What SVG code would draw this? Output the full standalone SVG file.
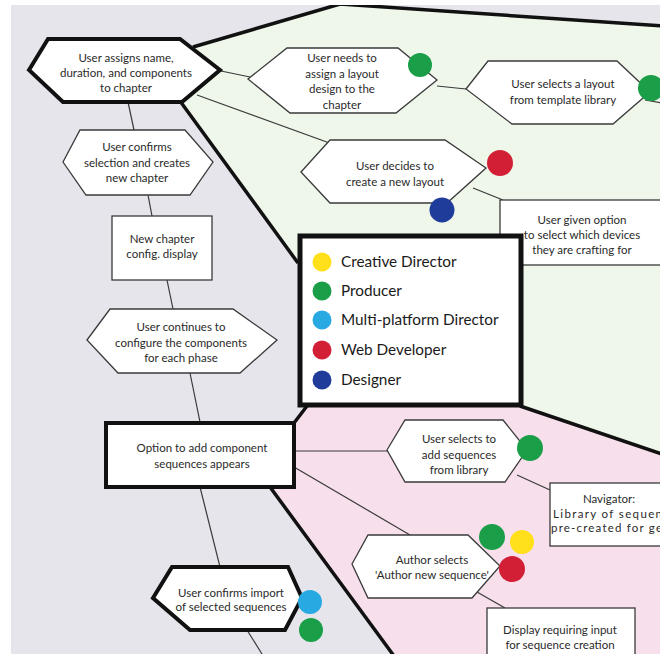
<svg xmlns="http://www.w3.org/2000/svg" width="671" height="654" viewBox="0 0 671 654">
<defs>
<style>
.t{font-family:Lato,"Open Sans",sans-serif;font-size:11.5px;fill:#2a2a2a;text-anchor:middle}
.lg{font-family:Lato,"Open Sans",sans-serif;font-size:15.3px;fill:#1a1a1a}
.n{fill:#fff;stroke:#3a3a3a;stroke-width:1.3}
.nb{fill:#fff;stroke:#111;stroke-width:4;stroke-linejoin:miter}
.c{stroke:#3a3a3a;stroke-width:1.2;fill:none}
.b{stroke:#111;stroke-width:3.5;fill:none}
</style>
<clipPath id="pic"><rect x="11" y="5" width="649" height="649"/></clipPath>
</defs>
<rect width="671" height="654" fill="#fff"/>
<g clip-path="url(#pic)">
<g id="regions">
<rect x="11" y="5" width="649" height="649" fill="#e6e5ec"/>
<polygon points="193,47 340,4 660,26 660,453 520,406 298,406 298,263 180,101" fill="#eef7ea"/>
<polygon points="305,406 520,406 660,453 660,654 393,654 270,487 294,487 294,422" fill="#f8dfec"/>
</g>
<g id="boundaries">
<polyline class="b" points="193,47 340,4 662,26"/>
<line class="b" x1="180" y1="101" x2="298" y2="263"/>
<line class="b" x1="520" y1="406" x2="662" y2="454"/>
<line class="b" x1="307" y1="406" x2="294" y2="423"/>
<line class="b" x1="270" y1="487" x2="394" y2="656"/>
</g>
<g id="connectors">
<line class="c" x1="221" y1="71" x2="250" y2="77"/>
<line class="c" x1="437" y1="86" x2="466" y2="89"/>
<line class="c" x1="197" y1="95" x2="335" y2="145"/>
<line class="c" x1="473" y1="188" x2="503" y2="200"/>
<line class="c" x1="128" y1="102" x2="134" y2="130"/>
<line class="c" x1="148" y1="195" x2="152" y2="216"/>
<line class="c" x1="167" y1="280" x2="173" y2="309"/>
<line class="c" x1="190" y1="373" x2="200" y2="422"/>
<line class="c" x1="200" y1="487" x2="220" y2="567"/>
<line class="c" x1="247" y1="630" x2="262" y2="654"/>
<line class="c" x1="294" y1="451" x2="388" y2="451"/>
<line class="c" x1="294" y1="467" x2="410" y2="535"/>
<line class="c" x1="517" y1="475" x2="550" y2="490"/>
<line class="c" x1="477" y1="592" x2="505" y2="608"/>
<line class="c" x1="645" y1="100" x2="662" y2="103"/>
</g>
<g id="n1">
<polygon class="nb" points="29,70 48,39 180,39 220,70 182,102 63,102"/>
<text class="t" x="126" y="62">User assigns name,</text>
<text class="t" x="126" y="77">duration, and components</text>
<text class="t" x="126" y="92">to chapter</text>
</g>
<g id="n2">
<polygon class="n" points="248,79 287,48 398,48 437,80 396,113 290,113"/>
<text class="t" x="342" y="62">User needs to</text>
<text class="t" x="342" y="78">assign a layout</text>
<text class="t" x="342" y="93">design to the</text>
<text class="t" x="342" y="109">chapter</text>
<circle cx="420" cy="65" r="12" fill="#1a9e48"/>
</g>
<g id="n3">
<polygon class="n" points="466,89 488,61 617,61 650,92 613,124 512,124"/>
<text class="t" x="563" y="88">User selects a layout</text>
<text class="t" x="563" y="104">from template library</text>
<circle cx="651" cy="88" r="13" fill="#1a9e48"/>
</g>
<g id="n4">
<polygon class="n" points="301,172 330,140 445,140 486,168 447,203 330,203"/>
<text class="t" x="395" y="170">User decides to</text>
<text class="t" x="395" y="186">create a new layout</text>
<circle cx="500" cy="163" r="13" fill="#d21f36"/>
<circle cx="442" cy="210" r="12.5" fill="#1f3c9a"/>
</g>
<g id="n5">
<rect class="n" x="500" y="200" width="165" height="65"/>
<text class="t" x="582" y="224">User given option</text>
<text class="t" x="582" y="239">to select which devices</text>
<text class="t" x="582" y="254">they are crafting for</text>
</g>
<g id="n7">
<polygon class="n" points="63,162 80,130 185,130 213,162 190,195 86,195"/>
<text class="t" x="137" y="151">User confirms</text>
<text class="t" x="137" y="167">selection and creates</text>
<text class="t" x="137" y="182">new chapter</text>
</g>
<g id="n8">
<rect class="n" x="112" y="216" width="100" height="64"/>
<text class="t" x="162" y="243">New chapter</text>
<text class="t" x="162" y="258">config. display</text>
</g>
<g id="n9">
<polygon class="n" points="87,340 110,309 233,309 277,340 240,373 118,373"/>
<text class="t" x="181" y="331">User continues to</text>
<text class="t" x="181" y="347">configure the components</text>
<text class="t" x="181" y="362">for each phase</text>
</g>
<g id="n10">
<rect class="nb" x="106" y="423" width="188" height="64"/>
<text class="t" x="202" y="452">Option to add component</text>
<text class="t" x="202" y="468">sequences appears</text>
</g>
<g id="n11">
<polygon class="nb" points="153,598 172,567 288,567 302,598 285,630 190,630"/>
<text class="t" x="231" y="597">User confirms import</text>
<text class="t" x="231" y="611">of selected sequences</text>
<circle cx="310" cy="602" r="12" fill="#29a9e1"/>
<circle cx="311" cy="630" r="12" fill="#1a9e48"/>
</g>
<g id="n12">
<polygon class="n" points="387,450 405,420 503,420 527,450 505,482 405,482"/>
<text class="t" x="459" y="443">User selects to</text>
<text class="t" x="459" y="459">add sequences</text>
<text class="t" x="459" y="474">from library</text>
<circle cx="530" cy="448" r="13" fill="#1a9e48"/>
</g>
<g id="n13">
<rect class="n" x="550" y="483" width="120" height="63"/>
<text class="t" x="609" y="503">Navigator:</text>
<text class="t" x="553" y="518" style="text-anchor:start" textLength="109" lengthAdjust="spacing">Library of sequen</text>
<text class="t" x="551" y="532" style="text-anchor:start" textLength="111" lengthAdjust="spacing">pre-created for ge</text>
</g>
<g id="n14">
<polygon class="n" points="352,564 368,535 468,535 500,566 472,598 368,598"/>
<text class="t" x="432" y="564">Author selects</text>
<text class="t" x="432" y="579">'Author new sequence'</text>
<circle cx="522" cy="542" r="12" fill="#ffe01a"/>
<circle cx="492" cy="537" r="13" fill="#1a9e48"/>
<circle cx="512" cy="569" r="13" fill="#d21f36"/>
</g>
<g id="n15">
<rect class="n" x="487" y="608" width="148" height="60"/>
<text class="t" x="560" y="634">Display requiring input</text>
<text class="t" x="560" y="649">for sequence creation</text>
</g>
<g id="legend">
<rect x="300" y="236" width="221" height="169" fill="#fff" stroke="#111" stroke-width="5"/>
<circle cx="322" cy="262" r="9.5" fill="#ffe01a"/>
<circle cx="322" cy="291" r="9.5" fill="#1a9e48"/>
<circle cx="322" cy="320" r="9.5" fill="#29a9e1"/>
<circle cx="322" cy="350" r="9.5" fill="#d21f36"/>
<circle cx="322" cy="380" r="9.5" fill="#1f3c9a"/>
<text class="lg" x="341" y="267">Creative Director</text>
<text class="lg" x="341" y="296">Producer</text>
<text class="lg" x="341" y="325">Multi-platform Director</text>
<text class="lg" x="341" y="355">Web Developer</text>
<text class="lg" x="341" y="385">Designer</text>
</g>
</g>
</svg>
